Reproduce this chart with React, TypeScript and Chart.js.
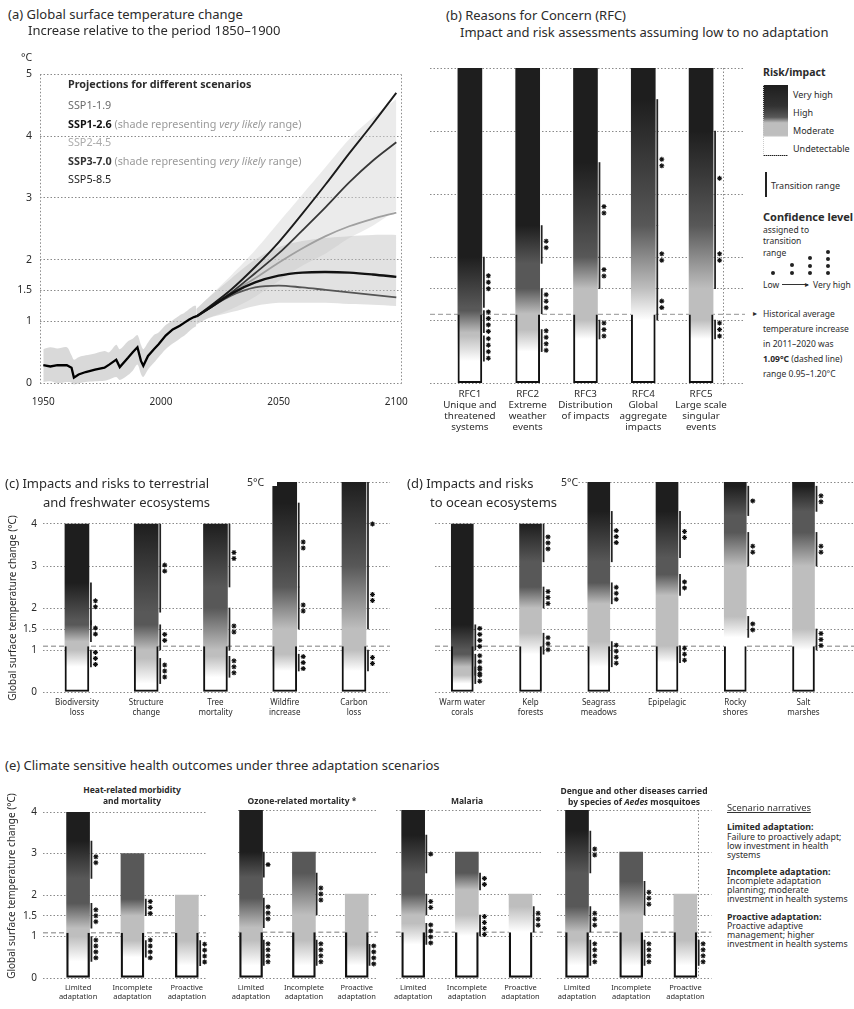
import React, { useEffect, useRef } from "react";
import { Chart, registerables } from "chart.js";

Chart.register(...registerables);

const FONT = "'Noto Sans', 'Open Sans', 'DejaVu Sans', sans-serif";
const INK = "#2b2b2b";

/* ---------------- (a) Global surface temperature change ---------------- */
const HIST_YEARS = [1950, 1953, 1956, 1960, 1962, 1963, 1965, 1968, 1972, 1976, 1978, 1981, 1982.5, 1986, 1988, 1990, 1991.5, 1992.5, 1994.5, 1997, 1999, 2002, 2005, 2008, 2010, 2012, 2014, 2015];
const HIST_MEAN = [0.29, 0.27, 0.29, 0.29, 0.25, 0.09, 0.14, 0.18, 0.22, 0.25, 0.3, 0.38, 0.26, 0.41, 0.5, 0.58, 0.36, 0.28, 0.44, 0.55, 0.63, 0.77, 0.87, 0.93, 0.98, 1.03, 1.07, 1.08];
const HIST_LOW = [0.02, 0.03, 0.0, 0.02, 0.01, -0.02, 0.0, 0.02, 0.03, 0.04, 0.06, 0.1, 0.05, 0.13, 0.2, 0.3, 0.15, 0.1, 0.22, 0.33, 0.42, 0.55, 0.64, 0.72, 0.77, 0.84, 0.9, 0.92];
const HIST_HIGH = [0.55, 0.58, 0.56, 0.58, 0.45, 0.38, 0.42, 0.45, 0.48, 0.52, 0.5, 0.62, 0.55, 0.68, 0.72, 0.78, 0.62, 0.55, 0.66, 0.78, 0.82, 0.94, 1.02, 1.1, 1.14, 1.2, 1.25, 1.25];

const PROJ_YEARS = [2015, 2020, 2030, 2040, 2050, 2060, 2070, 2080, 2090, 2100];
const SSP119 = [1.08, 1.2, 1.42, 1.55, 1.58, 1.55, 1.51, 1.47, 1.43, 1.39];
const SSP126 = [1.08, 1.2, 1.45, 1.63, 1.74, 1.79, 1.8, 1.79, 1.76, 1.72];
const SSP245 = [1.08, 1.2, 1.47, 1.7, 1.95, 2.18, 2.38, 2.54, 2.66, 2.76];
const SSP370 = [1.08, 1.2, 1.47, 1.78, 2.1, 2.47, 2.85, 3.25, 3.6, 3.9];
const SSP585 = [1.08, 1.22, 1.52, 1.88, 2.28, 2.74, 3.22, 3.72, 4.2, 4.7];
const SSP126_LOW = [0.95, 1.05, 1.15, 1.25, 1.3, 1.3, 1.3, 1.28, 1.27, 1.25];
const SSP126_HIGH = [1.2, 1.38, 1.7, 2.0, 2.2, 2.3, 2.35, 2.38, 2.4, 2.4];
const SSP370_LOW = [0.95, 1.05, 1.2, 1.4, 1.65, 1.9, 2.1, 2.35, 2.55, 2.8];
const SSP370_HIGH = [1.2, 1.38, 1.75, 2.15, 2.6, 3.05, 3.5, 3.95, 4.3, 4.6];

const A_X_TICKS = [1950, 2000, 2050, 2100];
const Y_TICKS_5 = [0, 1, 1.5, 2, 3, 4, 5];
const Y_TICKS_4 = [0, 1, 1.5, 2, 3, 4];

/* ---------------- Burning embers ---------------- */
// [from level, to level, transition start °C, transition end °C, confidence (number of dots)]
type Tr = [string, string, number, number, number];
const LEVEL_NAMES = ["U", "M", "H", "VH"];
const LEVEL_GRAY = [255, 190, 88, 30];
const HIST_WARMING = 1.09;

const RFC_LABELS = [
  ["RFC1", "Unique and", "threatened", "systems"],
  ["RFC2", "Extreme", "weather", "events"],
  ["RFC3", "Distribution", "of impacts"],
  ["RFC4", "Global", "aggregate", "impacts"],
  ["RFC5", "Large scale", "singular", "events"],
];
const RFC_TOPS = [5, 5, 5, 5, 5];
const RFC_TR: Tr[][] = [
  [["U", "M", 0.35, 0.75, 4], ["M", "H", 0.8, 1.15, 4], ["H", "VH", 1.2, 2.0, 3]],
  [["U", "M", 0.5, 0.85, 4], ["M", "H", 1.1, 1.5, 3], ["H", "VH", 1.9, 2.5, 2]],
  [["U", "M", 0.7, 1.0, 3], ["M", "H", 1.5, 2.0, 2], ["H", "VH", 2.0, 3.5, 2]],
  [["U", "M", 1.0, 1.5, 2], ["M", "H", 1.5, 2.5, 2], ["H", "VH", 2.5, 4.5, 2]],
  [["U", "M", 0.7, 1.0, 3], ["M", "H", 1.5, 2.5, 2], ["H", "VH", 2.5, 4.0, 1]],
];

const TERR_LABELS = [["Biodiversity", "loss"], ["Structure", "change"], ["Tree", "mortality"], ["Wildfire", "increase"], ["Carbon", "loss"]];
const TERR_TOPS = [4, 4, 4, 5, 5];
const TERR_TR: Tr[][] = [
  [["U", "M", 0.6, 1.0, 3], ["M", "H", 1.2, 1.7, 2], ["H", "VH", 1.6, 2.6, 2]],
  [["U", "M", 0.2, 0.8, 3], ["M", "H", 1.0, 1.6, 2], ["H", "VH", 1.9, 4.0, 2]],
  [["U", "M", 0.35, 0.85, 3], ["M", "H", 1.0, 2.0, 2], ["H", "VH", 2.5, 4.0, 2]],
  [["U", "M", 0.5, 0.9, 3], ["M", "H", 1.5, 2.5, 2], ["H", "VH", 2.5, 4.5, 2]],
  [["U", "M", 0.5, 1.0, 2], ["M", "H", 1.5, 3.0, 2], ["H", "VH", 3.0, 5.0, 1]],
];

const OCEAN_LABELS = [["Warm water", "corals"], ["Kelp", "forests"], ["Seagrass", "meadows"], ["Epipelagic"], ["Rocky", "shores"], ["Salt", "marshes"]];
const OCEAN_TOPS = [4, 4, 5, 5, 5, 5];
const OCEAN_TR: Tr[][] = [
  [["U", "M", 0.2, 0.6, 3], ["M", "H", 0.4, 0.9, 4], ["H", "VH", 1.0, 1.6, 4]],
  [["U", "M", 0.9, 1.4, 3], ["M", "H", 2.0, 2.5, 3], ["H", "VH", 3.1, 4.0, 3]],
  [["U", "M", 0.6, 1.2, 4], ["M", "H", 2.1, 2.6, 3], ["H", "VH", 3.1, 4.3, 3]],
  [["U", "M", 0.7, 1.1, 3], ["M", "H", 2.3, 2.8, 2], ["H", "VH", 3.2, 4.3, 2]],
  [["U", "M", 1.3, 1.8, 2], ["M", "H", 3.0, 3.8, 2], ["H", "VH", 4.2, 4.9, 1]],
  [["U", "M", 1.0, 1.5, 3], ["M", "H", 3.0, 3.8, 2], ["H", "VH", 4.3, 4.9, 2]],
];

const HEALTH_LABELS = [["Limited", "adaptation"], ["Incomplete", "adaptation"], ["Proactive", "adaptation"]];
const HEALTH_TOPS = [4, 3, 2];
const HEAT_TR: Tr[][] = [
  [["U", "M", 0.4, 1.0, 4], ["M", "H", 1.2, 1.8, 3], ["H", "VH", 2.4, 3.3, 2]],
  [["U", "M", 0.5, 0.9, 4], ["M", "H", 1.5, 1.9, 3]],
  [["U", "M", 0.3, 0.9, 4]],
];
const OZONE_TR: Tr[][] = [
  [["U", "M", 0.3, 0.9, 4], ["M", "H", 1.2, 1.9, 3], ["H", "VH", 2.4, 3.0, 1]],
  [["U", "M", 0.3, 0.9, 4], ["M", "H", 1.5, 2.5, 3]],
  [["U", "M", 0.3, 0.8, 4]],
];
const MALARIA_TR: Tr[][] = [
  [["U", "M", 0.8, 1.3, 4], ["M", "H", 1.5, 2.0, 2], ["H", "VH", 2.5, 3.4, 1]],
  [["U", "M", 1.0, 1.5, 4], ["M", "H", 2.1, 2.5, 2]],
  [["U", "M", 1.1, 1.7, 3]],
];
const DENGUE_TR: Tr[][] = [
  [["U", "M", 0.3, 0.9, 4], ["M", "H", 1.1, 1.7, 3], ["H", "VH", 2.5, 3.5, 2]],
  [["U", "M", 0.3, 0.9, 4], ["M", "H", 1.5, 2.3, 3]],
  [["U", "M", 0.3, 0.9, 4]],
];

/* ---------------- helpers ---------------- */
const gray = (name: string) => {
  const v = LEVEL_GRAY[LEVEL_NAMES.indexOf(name)];
  return `rgb(${v},${v},${v})`;
};

function emberFill(chart: any, top: number, trs: Tr[]) {
  if (!chart.chartArea) return "#888";
  const y = chart.scales.y;
  const p0 = y.getPixelForValue(0);
  const p1 = y.getPixelForValue(top);
  const g = chart.ctx.createLinearGradient(0, p0, 0, p1);
  const cl = (v: number) => Math.max(0, Math.min(1, v / top));
  g.addColorStop(0, gray(trs[0][0]));
  for (const [from, to, s, e] of trs) {
    g.addColorStop(cl(s), gray(from));
    g.addColorStop(cl(e), gray(to));
  }
  g.addColorStop(1, gray(trs[trs.length - 1][1]));
  return g;
}

interface EmberSpec {
  labels: string[][];
  tops: number[];
  trs: Tr[][];
  xMin: number;
  xMax: number;
  yMin: number;
  yMax: number;
  yTicks: number[];
  topLabel: boolean;
  w: number;
  h: number;
  yAxisW: number;
  xAxisH: number;
  padTop: number;
  padRight: number;
  barPx: number;
  showY: boolean;
  rightFrame: boolean;
  labelSize: number;
  labelLine: number;
  labelPad: number;
  starPx: number;
  outlineW: number;
}

const GRID = "#8a8a8a";
const DOT = [1.5, 2];

function buildEmber(canvas: HTMLCanvasElement, s: EmberSpec) {
  const areaW = s.w - s.yAxisW - s.padRight;
  const areaH = s.h - s.padTop - s.xAxisH;
  const pxX = areaW / (s.xMax - s.xMin);
  const pxY = areaH / (s.yMax - s.yMin);
  const lineOff = (s.barPx / 2 + 2) / pxX;
  const starOff = (s.barPx / 2 + 6.5) / pxX;
  const gap = s.starPx / pxY;

  const emberData = s.tops.map((t, i) => ({ x: i, y: [0, t] }));
  const outlineData = s.tops.map((_, i) => ({ x: i, y: [0, HIST_WARMING] }));
  const lineData: any[] = [];
  const starData: any[] = [];
  s.trs.forEach((list, i) =>
    list.forEach(([, , a, b, n]) => {
      lineData.push({ x: i + lineOff, y: [a, b] });
      const mid = (a + b) / 2;
      for (let k = 0; k < n; k++) starData.push({ x: i + starOff, y: mid + (k - (n - 1) / 2) * gap });
    })
  );

  return new Chart(canvas, {
    type: "bar",
    data: {
      datasets: [
        {
          type: "scatter",
          data: starData,
          pointStyle: "star",
          pointRadius: 2.5,
          pointBorderWidth: 1.1,
          pointBorderColor: "#111",
          pointBackgroundColor: "#111",
          clip: false,
          order: 0,
        } as any,
        { type: "bar", data: lineData, backgroundColor: "#222", barThickness: 1.1, grouped: false, order: 1 } as any,
        {
          type: "bar",
          data: outlineData,
          backgroundColor: "rgba(0,0,0,0)",
          borderColor: "#111",
          borderWidth: { left: s.outlineW, right: s.outlineW, bottom: s.outlineW, top: 0 },
          borderSkipped: false,
          barThickness: s.barPx,
          grouped: false,
          order: 2,
        } as any,
        {
          type: "bar",
          data: emberData,
          backgroundColor: (c: any) => emberFill(c.chart, s.tops[c.dataIndex], s.trs[c.dataIndex]),
          barThickness: s.barPx,
          grouped: false,
          order: 3,
        } as any,
        {
          type: "line",
          data: [
            { x: s.xMin, y: HIST_WARMING },
            { x: s.xMax, y: HIST_WARMING },
          ],
          borderColor: "#a8a8a8",
          borderWidth: 1.4,
          borderDash: [5, 3],
          pointRadius: 0,
          order: 4,
        } as any,
      ],
    },
    options: {
      responsive: false,
      animation: false,
      events: [],
      layout: { padding: { top: s.padTop, right: s.padRight, left: 0, bottom: 0 }, autoPadding: false } as any,
      plugins: { legend: { display: false }, tooltip: { enabled: false } },
      scales: {
        x: {
          type: "linear",
          min: s.xMin,
          max: s.xMax,
          offset: false,
          afterBuildTicks: (sc: any) => {
            const t = s.labels.map((_, i) => ({ value: i }));
            if (s.rightFrame) t.push({ value: s.xMax });
            sc.ticks = t;
          },
          afterFit: (sc: any) => {
            sc.height = s.xAxisH;
          },
          grid: {
            color: (c: any) => (s.rightFrame && c.tick && c.tick.value === s.xMax ? GRID : "rgba(0,0,0,0)"),
            drawTicks: false,
            lineWidth: 1,
          },
          border: { display: false, dash: DOT },
          ticks: {
            autoSkip: false,
            maxRotation: 0,
            minRotation: 0,
            padding: s.labelPad,
            color: INK,
            font: { size: s.labelSize, lineHeight: s.labelLine / s.labelSize },
            callback: (v: any) => (Number.isInteger(v) && s.labels[v] ? s.labels[v] : ""),
          },
        } as any,
        y: {
          type: "linear",
          min: s.yMin,
          max: s.yMax,
          afterBuildTicks: (sc: any) => {
            sc.ticks = s.yTicks.map((v) => ({ value: v }));
          },
          afterFit: (sc: any) => {
            sc.width = s.yAxisW;
          },
          grid: { color: GRID, drawTicks: false, lineWidth: 1 },
          border: { display: false, dash: DOT },
          ticks: {
            display: s.showY,
            padding: 6,
            color: INK,
            font: { size: 10 },
            callback: (v: any) => (v === 5 && !s.topLabel ? "" : String(v)),
          },
        } as any,
      },
    },
  });
}

function buildLineChart(canvas: HTMLCanvasElement) {
  const xMin = 1948.6;
  const xMax = 2102;
  const pts = (xs: number[], ys: number[]) => xs.map((x, i) => ({ x, y: ys[i] }));
  const band = (xs: number[], lo: number[], hi: number[], fill: string, order: number) => [
    { type: "line", data: pts(xs, lo), borderWidth: 0, borderColor: "rgba(0,0,0,0)", pointRadius: 0, fill: false, tension: 0.3, order },
    { type: "line", data: pts(xs, hi), borderWidth: 0, borderColor: "rgba(0,0,0,0)", pointRadius: 0, fill: "-1", backgroundColor: fill, tension: 0.3, order },
  ];
  const line = (xs: number[], ys: number[], color: string, width: number, order: number, tension = 0.35) => ({
    type: "line",
    data: pts(xs, ys),
    borderColor: color,
    borderWidth: width,
    pointRadius: 0,
    fill: false,
    tension,
    order,
  });
  return new Chart(canvas, {
    type: "line",
    data: {
      datasets: [
        ...band(HIST_YEARS, HIST_LOW, HIST_HIGH, "rgba(185,185,185,0.55)", 20),
        ...band(PROJ_YEARS, SSP370_LOW, SSP370_HIGH, "rgba(215,215,215,0.5)", 19),
        ...band(PROJ_YEARS, SSP126_LOW, SSP126_HIGH, "rgba(190,190,190,0.45)", 18),
        line(PROJ_YEARS, SSP119, "#555555", 1.8, 6),
        line(PROJ_YEARS, SSP245, "#a0a0a0", 1.8, 5),
        line(PROJ_YEARS, SSP370, "#383838", 1.8, 4),
        line(PROJ_YEARS, SSP585, "#1c1c1c", 1.9, 3),
        line(PROJ_YEARS, SSP126, "#111111", 2.4, 2),
        line(HIST_YEARS, HIST_MEAN, "#000000", 2.3, 1, 0),
      ] as any,
    },
    options: {
      responsive: false,
      animation: false,
      events: [],
      layout: { padding: { top: 8, right: 4, left: 0, bottom: 0 }, autoPadding: false } as any,
      plugins: { legend: { display: false }, tooltip: { enabled: false } },
      scales: {
        x: {
          type: "linear",
          min: xMin,
          max: xMax,
          afterBuildTicks: (sc: any) => {
            sc.ticks = [xMin, ...A_X_TICKS, xMax].map((v) => ({ value: v }));
          },
          afterFit: (sc: any) => {
            sc.height = 27;
          },
          grid: {
            color: (c: any) => (c.tick && (c.tick.value === xMin || c.tick.value === xMax) ? GRID : "rgba(0,0,0,0)"),
            drawTicks: false,
          },
          border: { display: false, dash: DOT },
          ticks: {
            autoSkip: false,
            maxRotation: 0,
            padding: 11,
            color: INK,
            font: { size: 10 },
            callback: (v: any) => (A_X_TICKS.includes(v) ? String(v) : ""),
          },
        } as any,
        y: {
          type: "linear",
          min: -0.03,
          max: 5,
          afterBuildTicks: (sc: any) => {
            sc.ticks = Y_TICKS_5.map((v) => ({ value: v }));
          },
          afterFit: (sc: any) => {
            sc.width = 40;
          },
          grid: { color: GRID, drawTicks: false },
          border: { display: false, dash: DOT },
          ticks: { padding: 8, color: INK, font: { size: 10.5 }, callback: (v: any) => String(v) },
        } as any,
      },
    },
  });
}

/* ---------------- layout of the charts ---------------- */
const EMBER_BASE = { yMin: 0, topLabel: false, rightFrame: false, showY: false, outlineW: 1.3, starPx: 6 };

const SPEC_B: EmberSpec = {
  ...EMBER_BASE,
  labels: RFC_LABELS, tops: RFC_TOPS, trs: RFC_TR,
  xMin: -0.69, xMax: 4.76, yMin: -0.03, yMax: 5, yTicks: Y_TICKS_5,
  w: 320, h: 390, yAxisW: 0, xAxisH: 65, padTop: 8, padRight: 5,
  barPx: 24, rightFrame: true, labelSize: 9.8, labelLine: 11, labelPad: 4, starPx: 6.5,
};
const SPEC_C: EmberSpec = {
  ...EMBER_BASE,
  labels: TERR_LABELS, tops: TERR_TOPS, trs: TERR_TR,
  xMin: -0.49, xMax: 4.52, yMax: 5, yTicks: Y_TICKS_5,
  w: 394, h: 250, yAxisW: 43, xAxisH: 28, padTop: 12, padRight: 4,
  barPx: 24, showY: true, labelSize: 8, labelLine: 10, labelPad: 6,
};
const SPEC_D: EmberSpec = {
  ...EMBER_BASE,
  labels: OCEAN_LABELS, tops: OCEAN_TOPS, trs: OCEAN_TR,
  xMin: -0.4, xMax: 5.74, yMax: 5, yTicks: Y_TICKS_5,
  w: 434, h: 250, yAxisW: 15, xAxisH: 28, padTop: 12, padRight: 0,
  barPx: 22, labelSize: 8, labelLine: 10, labelPad: 6,
};
const E_BASE = {
  ...EMBER_BASE,
  labels: HEALTH_LABELS, tops: HEALTH_TOPS, yMax: 4, yTicks: Y_TICKS_4,
  h: 205, xAxisH: 27, padTop: 10, padRight: 4, barPx: 23,
  labelSize: 7.5, labelLine: 9, labelPad: 5.5, outlineW: 1.6,
};
const SPEC_E1: EmberSpec = { ...E_BASE, trs: HEAT_TR, xMin: -0.645, xMax: 2.355, w: 212, yAxisW: 43, showY: true };
const SPEC_E2: EmberSpec = { ...E_BASE, trs: OZONE_TR, xMin: -0.241, xMax: 2.402, w: 156, yAxisW: 4 };
const SPEC_E3: EmberSpec = { ...E_BASE, trs: MALARIA_TR, xMin: -0.327, xMax: 2.418, w: 159, yAxisW: 4 };
const SPEC_E4: EmberSpec = { ...E_BASE, trs: DENGUE_TR, xMin: -0.373, xMax: 2.482, w: 165, yAxisW: 4, rightFrame: true };

const EMBER_CHARTS: { spec: EmberSpec; left: number; top: number }[] = [
  { spec: SPEC_B, left: 430, top: 60 },
  { spec: SPEC_C, left: 0, top: 470 },
  { spec: SPEC_D, left: 420, top: 470 },
  { spec: SPEC_E1, left: 0, top: 800 },
  { spec: SPEC_E2, left: 226, top: 800 },
  { spec: SPEC_E3, left: 388, top: 800 },
  { spec: SPEC_E4, left: 552, top: 800 },
];

/* ---------------- text helper ---------------- */
function T(props: { x: number; y: number; s?: number; c?: string; b?: boolean; i?: boolean; center?: boolean; u?: boolean; children: any }) {
  const s = props.s || 12;
  const lh = Math.round(s * 1.25);
  const style: React.CSSProperties = {
    position: "absolute",
    left: props.x,
    top: props.y - lh / 2,
    fontSize: s,
    lineHeight: `${lh}px`,
    whiteSpace: "nowrap",
    color: props.c || INK,
    fontWeight: props.b ? 700 : 400,
    fontStyle: props.i ? "italic" : "normal",
    textDecoration: props.u ? "underline" : "none",
    transform: props.center ? "translateX(-50%)" : undefined,
    zIndex: 3,
  };
  return <div style={style}>{props.children}</div>;
}

function Dot({ x, y }: { x: number; y: number }) {
  return <div style={{ position: "absolute", left: x - 2, top: y - 2, width: 4, height: 4, borderRadius: 2, background: "#222", zIndex: 3 }} />;
}

export default function App() {
  const refA = useRef<HTMLCanvasElement>(null);
  const refs = useRef<(HTMLCanvasElement | null)[]>([]);

  useEffect(() => {
    Chart.defaults.font.family = FONT;
    Chart.defaults.color = INK;
    const charts: Chart[] = [];
    if (refA.current) charts.push(buildLineChart(refA.current));
    EMBER_CHARTS.forEach((e, i) => {
      const c = refs.current[i];
      if (c) charts.push(buildEmber(c, e.spec));
    });
    return () => charts.forEach((c) => c.destroy());
  }, []);

  const narrative = 8.8;
  const title = 13;
  const leg = 10.8;
  const swatch =
    "linear-gradient(to bottom, rgb(30,30,30) 0%, rgb(50,50,50) 30%, rgb(88,88,88) 46%, rgb(190,190,190) 54%, rgb(190,190,190) 72%, #fff 75%, #fff 100%)";

  return (
    <div style={{ position: "absolute", left: 0, top: 0, width: 854, height: 1009, background: "#fff", overflow: "hidden", fontFamily: FONT, color: INK }}>
      <canvas ref={refA} width={412} height={352} style={{ position: "absolute", left: 0, top: 60, width: 412, height: 352 }} />
      {EMBER_CHARTS.map((e, i) => (
        <canvas
          key={i}
          ref={(el) => {
            refs.current[i] = el;
          }}
          width={e.spec.w}
          height={e.spec.h}
          style={{ position: "absolute", left: e.left, top: e.top, width: e.spec.w, height: e.spec.h }}
        />
      ))}

      {/* (a) */}
      <T x={8} y={14} s={title}>(a) Global surface temperature change</T>
      <T x={28} y={30} s={title}>Increase relative to the period 1850–1900</T>
      <T x={21} y={57} s={10.5}>°C</T>
      <T x={68} y={84} s={leg} b>Projections for different scenarios</T>
      <T x={68} y={105} s={leg} c="#6a6a6a">SSP1-1.9</T>
      <T x={68} y={124} s={leg} c="#111">
        <b>SSP1-2.6</b> <span style={{ color: "#9a9a9a" }}>(shade representing <i>very likely</i> range)</span>
      </T>
      <T x={68} y={142} s={leg} c="#ababab">SSP2-4.5</T>
      <T x={68} y={161} s={leg} c="#333">
        <b>SSP3-7.0</b> <span style={{ color: "#9a9a9a" }}>(shade representing <i>very likely</i> range)</span>
      </T>
      <T x={68} y={179} s={leg} c="#222">SSP5-8.5</T>

      {/* (b) */}
      <T x={446} y={15} s={title}>(b) Reasons for Concern (RFC)</T>
      <T x={460} y={32} s={title}>Impact and risk assessments assuming low to no adaptation</T>
      <T x={763} y={72} s={10.5} b>Risk/impact</T>
      <div style={{ position: "absolute", left: 763, top: 85, width: 24, height: 70, background: swatch, borderBottom: "1px dotted #999", borderLeft: "1px dotted #ccc", zIndex: 3 }} />
      <T x={793} y={94} s={9}>Very high</T>
      <T x={793} y={112} s={9}>High</T>
      <T x={793} y={130} s={9}>Moderate</T>
      <T x={793} y={148} s={9}>Undetectable</T>
      <div style={{ position: "absolute", left: 765, top: 172, width: 1.5, height: 25, background: "#222" }} />
      <T x={771} y={185} s={9}>Transition range</T>
      <T x={763} y={217} s={11} b>Confidence level</T>
      <T x={763} y={229} s={8.5}>assigned to</T>
      <T x={763} y={240} s={8.5}>transition</T>
      <T x={763} y={252} s={8.5}>range</T>
      <Dot x={773} y={273} />
      <Dot x={792} y={265} />
      <Dot x={792} y={273} />
      <Dot x={810} y={258} />
      <Dot x={810} y={265.5} />
      <Dot x={810} y={273} />
      <Dot x={828} y={252} />
      <Dot x={828} y={259} />
      <Dot x={828} y={266} />
      <Dot x={828} y={273} />
      <T x={763} y={284} s={8.5}>Low</T>
      <div style={{ position: "absolute", left: 782, top: 284, width: 26, height: 1, background: "#333" }} />
      <T x={805} y={284} s={8}>▸</T>
      <T x={813} y={284} s={8.5}>Very high</T>
      <T x={753} y={313} s={8}>▸</T>
      <T x={763} y={313} s={8.5}>Historical average</T>
      <T x={763} y={328} s={8.5}>temperature increase</T>
      <T x={763} y={343} s={8.5}>in 2011–2020 was</T>
      <T x={763} y={358} s={8.5}>
        <b>1.09°C</b> (dashed line)
      </T>
      <T x={763} y={373} s={8.5}>range 0.95–1.20°C</T>

      {/* (c) */}
      <div style={{ position: "absolute", left: 40, top: 478, width: 237, height: 8, background: "#fff", zIndex: 2 }} />
      <T x={5} y={483} s={title}>(c) Impacts and risks to terrestrial</T>
      <T x={43} y={502} s={title}>and freshwater ecosystems</T>
      <T x={247} y={482} s={10.5}>5°C</T>
      <div style={{ position: "absolute", left: 12, top: 608, transform: "translate(-50%, -50%) rotate(-90deg)", fontSize: 10, whiteSpace: "nowrap", zIndex: 3 }}>
        Global surface temperature change (°C)
      </div>

      {/* (d) */}
      <div style={{ position: "absolute", left: 430, top: 478, width: 148, height: 8, background: "#fff", zIndex: 2 }} />
      <T x={407} y={483} s={title}>(d) Impacts and risks</T>
      <T x={430} y={502} s={title}>to ocean ecosystems</T>
      <T x={561} y={482} s={10.5}>5°C</T>

      {/* (e) */}
      <T x={5} y={765} s={title}>(e) Climate sensitive health outcomes under three adaptation scenarios</T>
      <div style={{ position: "absolute", left: 11, top: 886, transform: "translate(-50%, -50%) rotate(-90deg)", fontSize: 10, whiteSpace: "nowrap", zIndex: 3 }}>
        Global surface temperature change (°C)
      </div>
      <T x={132} y={789} s={8.5} b center>Heat-related morbidity</T>
      <T x={132} y={800} s={8.5} b center>and mortality</T>
      <T x={302} y={800} s={8.5} b center>Ozone-related mortality *</T>
      <T x={467} y={800} s={8.5} b center>Malaria</T>
      <T x={634} y={790} s={8.5} b center>Dengue and other diseases carried</T>
      <T x={634} y={801} s={8.5} b center>
        by species of <i>Aedes</i> mosquitoes
      </T>

      <T x={727} y={808} s={9.3} c="#333" u>Scenario narratives</T>
      <T x={727} y={827} s={narrative} b>Limited adaptation:</T>
      <T x={727} y={837} s={narrative}>Failure to proactively adapt;</T>
      <T x={727} y={846} s={narrative}>low investment in health</T>
      <T x={727} y={855} s={narrative}>systems</T>
      <T x={727} y={872} s={narrative} b>Incomplete adaptation:</T>
      <T x={727} y={881} s={narrative}>Incomplete adaptation</T>
      <T x={727} y={890} s={narrative}>planning; moderate</T>
      <T x={727} y={899} s={narrative}>investment in health systems</T>
      <T x={727} y={917} s={narrative} b>Proactive adaptation:</T>
      <T x={727} y={926} s={narrative}>Proactive adaptive</T>
      <T x={727} y={935} s={narrative}>management; higher</T>
      <T x={727} y={944} s={narrative}>investment in health systems</T>
    </div>
  );
}
